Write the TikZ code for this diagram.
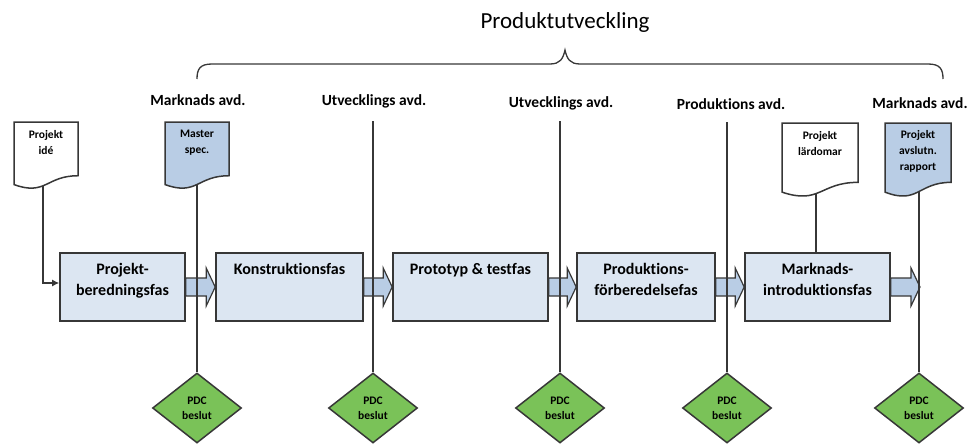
\documentclass[tikz,border=0pt]{standalone}
\usepackage{fontspec}
\setmainfont{Carlito}[Ligatures=NoCommon]
\usetikzlibrary{shapes.geometric,arrows.meta}
\definecolor{boxfill}{RGB}{220,230,242}
\definecolor{arrfill}{RGB}{185,205,229}
\definecolor{docblue}{RGB}{185,205,229}
\definecolor{pdcgreen}{RGB}{122,194,88}
\definecolor{edge}{RGB}{55,55,55}
\newcommand{\docshape}[5]{%
  \draw[docline, fill=#5] (#1,#2) -- ({#1+#3},#2) -- ({#1+#3},{#2+0.802*#4})
    .. controls ({#1+0.5*#3},{#2+0.802*#4}) and ({#1+0.5*#3},{#2+1.107*#4}) .. (#1,{#2+0.934*#4}) -- cycle;}
\newcommand{\blockarrow}[2]{%
  \draw[arrline] ([yshift=9pt]#1) -- ([xshift=-9pt,yshift=9pt]#2) -- ([xshift=-9pt,yshift=19pt]#2) -- (#2)
    -- ([xshift=-9pt,yshift=-19pt]#2) -- ([xshift=-9pt,yshift=-9pt]#2) -- ([yshift=-9pt]#1) -- cycle;}
\begin{document}
\begin{tikzpicture}[x=1pt,y=-1pt,
  phase/.style={draw=edge, line width=1.6pt, fill=boxfill, minimum height=68pt, inner sep=0pt},
  phasetext/.style={anchor=north, inner sep=0pt, align=center, font=\fontsize{16}{21.5}\selectfont\bfseries},
  dept/.style={inner sep=0pt, font=\fontsize{15.5}{18}\selectfont\bfseries},
  docline/.style={draw=edge, line width=1.5pt},
  doctext/.style={anchor=north, inner sep=0pt, align=center, font=\fontsize{11.5}{16}\selectfont\bfseries},
  arrline/.style={draw=edge, line width=1.2pt, fill=arrfill},
  vline/.style={draw=edge, line width=1.3pt},
  pdc/.style={diamond, draw=edge, line width=1.5pt, fill=pdcgreen, minimum width=89pt, minimum height=70pt, inner sep=0pt, align=center, font=\fontsize{11.5}{15}\selectfont\bfseries}
]
\useasboundingbox (0,0) rectangle (972,444);

% title and brace
\node[inner sep=0pt, font=\fontsize{23}{26}\selectfont] (title) at (565,22) {Produktutveckling};
\draw[edge, line width=1.3pt] (197,79) .. controls (197,69) and (200,64) .. (212,64) -- (550,64)
  .. controls (560,64) and (563,59) .. (565,50) .. controls (567,59) and (570,64) .. (580,64) -- (928,64)
  .. controls (940,64) and (943,69) .. (943,79);

% department labels
\node[dept] (dep1) at (198,100) {Marknads avd.};
\node[dept] (dep2) at (374,101) {Utvecklings avd.};
\node[dept] (dep3) at (561,103) {Utvecklings avd.};
\node[dept] (dep4) at (731,104) {Produktions avd.};
\node[dept] (dep5) at (920,103) {Marknads avd.};

% phase boxes
\node[phase, minimum width=125pt] (box1) at (122.5,287) {};
\node[phase, minimum width=147pt] (box2) at (289.5,287) {};
\node[phase, minimum width=155pt] (box3) at (470.5,287) {};
\node[phase, minimum width=138pt] (box4) at (646,287) {};
\node[phase, minimum width=145pt] (box5) at (817.5,287) {};
\node[phasetext] (t1) at (122.5,263) {Projekt-\\beredningsfas};
\node[phasetext] (t2) at (289.5,263) {Konstruktionsfas};
\node[phasetext] (t3) at (470.5,263) {Prototyp \& testfas};
\node[phasetext] (t4) at (646,263) {Produktions-\\förberedelsefas};
\node[phasetext] (t5) at (817.5,263) {Marknads-\\introduktionsfas};

% block arrows
\coordinate (endtip) at (920,287);
\blockarrow{box1.east}{box2.west}
\blockarrow{box2.east}{box3.west}
\blockarrow{box3.east}{box4.west}
\blockarrow{box4.east}{box5.west}
\blockarrow{box5.east}{endtip}

% decision diamonds
\node[pdc] (d1) at (197,408) {PDC\\beslut};
\node[pdc] (d2) at (373,408) {PDC\\beslut};
\node[pdc] (d3) at (560,408) {PDC\\beslut};
\node[pdc] (d4) at (727,408) {PDC\\beslut};
\node[pdc] (d5) at (919,408) {PDC\\beslut};

% vertical lines
\coordinate (ideb) at (43,180);
\coordinate (mspecb) at (197,175);
\coordinate (top2) at (373,121);
\coordinate (top3) at (560,121);
\coordinate (top4) at (727,122);
\coordinate (lardb) at (816,185);
\coordinate (avsb) at (919,185);
\draw[vline] (mspecb) -- (d1.north);
\draw[vline] (top2) -- (d2.north);
\draw[vline] (top3) -- (d3.north);
\draw[vline] (top4) -- (d4.north);
\draw[vline] (avsb) -- (d5.north);
\draw[vline] (lardb) -- (lardb |- box5.north);
\draw[vline, -{Latex[length=7pt,width=7pt]}] (ideb) |- ([yshift=4pt]box1.west);

% documents
\docshape{14}{122}{64}{67}{white}
\docshape{165}{122}{64}{67}{docblue}
\docshape{782}{123}{76}{74}{white}
\docshape{885}{123}{66}{74}{docblue}
\node[doctext] (doc1) at (46,130) {Projekt\\idé};
\node[doctext] (doc2) at (197,130) {Master\\spec.};
\node[doctext] (doc3) at (820,131) {Projekt\\lärdomar};
\node[doctext] (doc4) at (918,130) {Projekt\\avslutn.\\rapport};
\end{tikzpicture}
\end{document}
